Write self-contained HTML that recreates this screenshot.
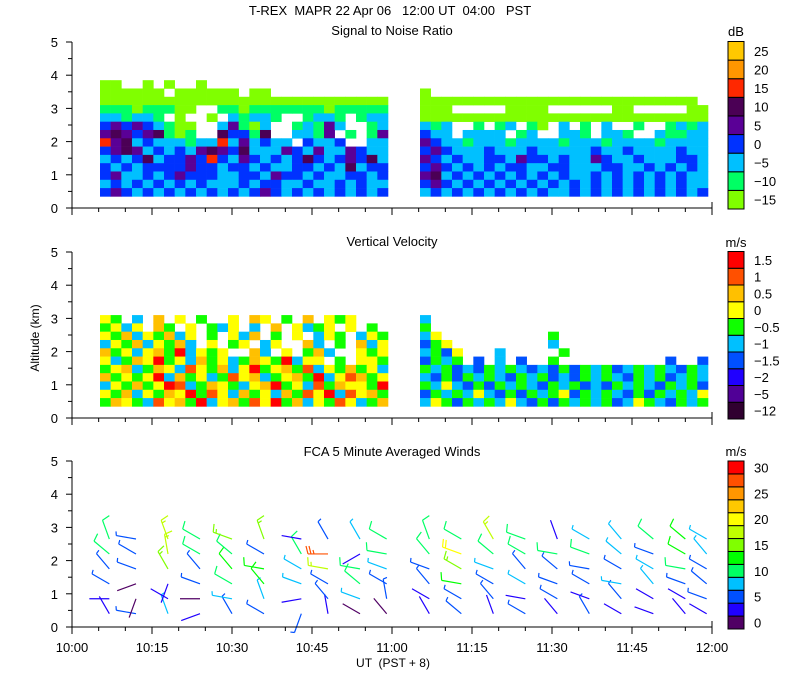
<!DOCTYPE html>
<html><head><meta charset="utf-8"><style>
html,body{margin:0;padding:0;background:#fff;}
svg{display:block;font-family:"Liberation Sans",sans-serif;}
text{font-size:13px;fill:#000;white-space:pre;}
</style></head><body>
<svg id="chart" width="800" height="700" xmlns="http://www.w3.org/2000/svg">
<text x="390" y="15" text-anchor="middle" xml:space="preserve">T-REX  MAPR 22 Apr 06   12:00 UT  04:00   PST</text>
<text x="392" y="35" text-anchor="middle">Signal to Noise Ratio</text>
<text x="392" y="246" text-anchor="middle">Vertical Velocity</text>
<text x="392" y="456" text-anchor="middle">FCA 5 Minute Averaged Winds</text>
<text x="0" y="0" transform="translate(39,338) rotate(-90)" text-anchor="middle" style="font-size:12px">Altitude (km)</text>
<text x="393" y="667" text-anchor="middle" style="font-size:12px" xml:space="preserve">UT  (PST + 8)</text>
<g id="layer"></g>
</svg>
<script>
const xTickLabels=["10:00","10:15","10:30","10:45","11:00","11:15","11:30","11:45","12:00"];
const yTickLabels=["0","1","2","3","4","5"];
const snrColors=["#80ff00","#00ff64","#00c0ff","#0032ff","#5a0096","#4b0055","#ff2800","#ff9600","#ffc800"];
const snrLabels=["-15","-10","-5","0","5","10","15","20","25"];
const vvColors=["#300030","#500096","#2000ff","#0050ff","#00c0ff","#10ff00","#ffff00","#ffc000","#ff5000","#ff0000"];
const vvLabels=["-12","-5","-2","-1.5","-1","-0.5","0","0.5","1","1.5"];
const windColors=["#500064","#2000ff","#0050ff","#00c0ff","#00ff64","#00ff00","#80ff00","#c0ff00","#ffff00","#ffc800","#ff9600","#ff5000","#ff0000"];
const windLabels=["0","5","10","15","20","25","30"];
const segStarts=[5.25,65.25];
const snrSeg1=["00..0.0..0.................","000000.000000.00...........","000000000000000000000000000","111011100..1101111111011111","221221.0..0.21221..1221.122","343432100..24102..12142..12","454345101..53315..2214.1.14","645232221226242322.3223..22","345423232454352224324224322","232352334363243232353234352","323233334332332322332325233","342232343332233243323223323","232323232322232332232232322","343232323232323432323232323"];
const snrSeg2=["...........................","0..........................","00000000000000000000000000.","000.....0000......00.....00","000000000000000000000000000","212..1.12.10.2.1.2..1..1212","322.2222.12..221.221..21122","432212221222212221222212222","343222322232222232232222322","432322332433232243223222332","343232323322332223322323232","452323232323232232323232322","343232323232323232323232322","232323232323223232323232323"];
const vvSeg1=["65.4.7.6.5..6.76.5.7.656...","5646.75.6.546.4.7.6456.6.5.","657465746.5.647.5.6.465.465","465746574.6.56.46..74.5.746","756467594656..74.6.574..656","645769564756457659466.5.665","567457648657469567584657564","756569475645867456759468756","465756984576546795648576659","657465769586475647586948675","576548675946758695746586457"];
const vvSeg2=["4..........................","5..........................","46..........5..............","356.........4..............","4536...4.....5.............","3545.3.4.3..5..........3..3","545343545434353545345454354","435354543545343545435453454","546435354543545343545435453","354546435354563545435354546","465354546435354545346543545"];
const windTimes=[7,12,18,24,30,36,43,48,54,59,67,73,79,85,91,97,103,109,115,119];
const windHeights=[0.4,0.85,1.3,1.75,2.2,2.65];
const windSpeed=[[3,4,5,6,10,12],[6,2,2,5,6,5],[8,3,4,17,18,19],[3,2,5,5,12,12],[5,8,10,14,12,15],[7,8,14,13,6,17],[5,3,8,8,12,3],[4,6,7,18,28,5],[2,9,12,11,3,9],[2,5,7,8,12,10],[3,4,6,7,10,10],[5,6,13,16,20,12],[4,6,7,9,10,18],[5,4,8,5,10,10],[4,5,7,6,12,3],[5,3,5,7,10,9],[3,5,9,7,8,9],[4,3,8,9,5,10],[4,4,6,12,14,13],[3,5,7,6,8,9]];
const windDir=[[330,270,300,320,310,340],[280,200,250,290,300,280],[340,300,200,330,350,340],[250,270,290,320,300,300],[330,280,300,320,310,290],[300,340,320,280,300,340],[200,260,290,300,330,280],[350,320,300,280,270,330],[300,290,310,280,240,330],[320,350,300,290,280,300],[330,300,320,290,320,340],[310,300,280,300,290,300],[340,320,300,290,310,330],[300,280,300,320,300,290],[320,300,290,310,280,340],[330,290,300,280,290,300],[300,320,280,300,310,320],[290,300,320,300,290,310],[320,300,290,280,300,310],[300,290,310,300,320,300]];

const NS="http://www.w3.org/2000/svg";
const layer=document.getElementById('layer');
function mk(tag,attrs,parent){const e=document.createElementNS(NS,tag);for(const k in attrs)e.setAttribute(k,attrs[k]);(parent||layer).appendChild(e);return e;}
const X0=72,X1=712;
function xs(t){return X0+t*(X1-X0)/120;}
const panelBase=[208,418,627];
const KM=33.2;
function ys(p,z){return panelBase[p]-z*KM;}

function drawGrid(p,rows,colors,starts,colW,topZ,dz,name){
  const g=mk('g',{});
  
  
  rows.forEach((segRows,si)=>{
    segRows.forEach((row,ri)=>{
      for(let ci=0;ci<27;ci++){
        const ch=row[ci]; if(ch===undefined||ch==='.')continue;
        const t=starts[si]+ci*colW;
        const z=topZ-ri*dz;
        const x=xs(t), x2=xs(t+colW), y=ys(p,z), y2=ys(p,z-dz);
        const r=mk('rect',{x:x,y:y,width:x2-x+0.3,height:y2-y+0.3,fill:colors[+ch]},g);
        
        
      }
    });
  });
}
drawGrid(0,[snrSeg1,snrSeg2],snrColors,segStarts,2.0,3.85,0.25,'snr-heatmap');
drawGrid(1,[vvSeg1,vvSeg2],vvColors,segStarts,2.0,3.1,0.25,'vv-heatmap');

function windColor(s){return windColors[Math.min(12,Math.max(0,Math.floor(s/2.5)))];}
const wg=mk('g',{});


windTimes.forEach((t,ci)=>{
  windHeights.forEach((z,hi)=>{
    const s=windSpeed[ci][hi], d=windDir[ci][hi]*Math.PI/180;
    const x=xs(t), y=ys(2,z), L=20;
    const ux=Math.sin(d), uy=-Math.cos(d);
    const ex=x+ux*L, ey=y+uy*L;
    const c=windColor(s);
    let path=`M${x},${y}L${ex},${ey}`;
    let rem=s, k=0;
    const px=-uy, py=ux;
    while(rem>=10){const bx=ex-ux*k*3,by=ey-uy*k*3;path+=`M${bx},${by}l${px*8+ux*2},${py*8+uy*2}`;rem-=10;k++;}
    if(rem>=5){const bx=ex-ux*k*3,by=ey-uy*k*3;path+=`M${bx},${by}l${px*4+ux*1},${py*4+uy*1}`;}
    const b=mk('path',{d:path,stroke:c,'stroke-width':1.2,fill:'none'},wg);
    
    
  });
});

for(let p=0;p<3;p++){
  const ax=mk('g',{stroke:'#000','stroke-width':1,fill:'none'});
  
  
  const b=panelBase[p], top=ys(p,5);
  mk('path',{d:`M${X0},${top}V${b}H${X1}V${b-6}`},ax);
  for(let z=0;z<=10;z++){const y=ys(p,z/2);mk('line',{x1:X0-(z%2?4:6),x2:X0,y1:y,y2:y},ax);}
  for(let m=0;m<=24;m++){const x=xs(m*5);mk('line',{x1:x,x2:x,y1:b,y2:b+(m%3?4:7)},ax);}
  yTickLabels.forEach((l,i)=>{const tx=mk('text',{x:X0-14,y:ys(p,i)+5,'text-anchor':'end',stroke:'none'});tx.textContent=l;
    layer.appendChild(tx);});
}
xTickLabels.forEach((l,i)=>{const tx=mk('text',{x:xs(i*15),y:652,'text-anchor':'middle'});tx.textContent=l;
  });

function colorbar(colors,labels,top,bot,unit,uy,step,name){
  const g=mk('g',{});
  
  
  const h=(bot-top)/colors.length;
  colors.forEach((c,i)=>{const y=bot-(i+1)*h;const r=mk('rect',{x:728,y:y,width:16,height:h,fill:c,stroke:'#000','stroke-width':1},g);
    });
  labels.forEach((l,i)=>{const ci=i*step;const y=bot-(ci+0.5)*h+5;const tx=mk('text',{x:754,y:y},g);tx.textContent=l.replace('-','\u2212');
    });
  const u=mk('text',{x:736,y:uy,'text-anchor':'middle'},g);u.textContent=unit;
  
}
colorbar(snrColors,snrLabels,41.5,209,'dB',36,1,'snr-colorbar');
colorbar(vvColors,vvLabels,251.5,419,'m/s',247,1,'vv-colorbar');
colorbar(windColors,windLabels,461,629,'m/s',456,2,'wind-colorbar');
</script>
</body></html>
